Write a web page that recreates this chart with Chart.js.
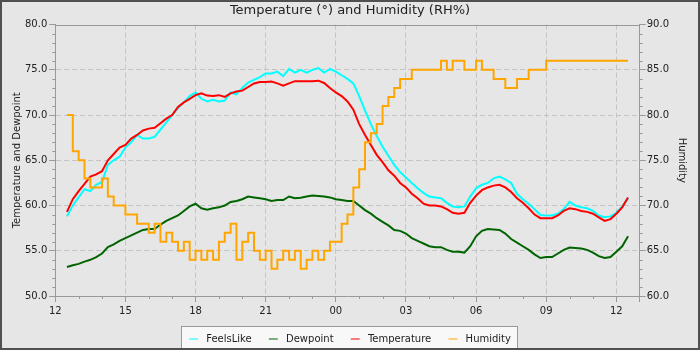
<!DOCTYPE html>
<html>
<head>
<meta charset="utf-8">
<title>Temperature and Humidity</title>
<script src="https://cdn.jsdelivr.net/npm/chart.js@4.4.0/dist/chart.umd.min.js"></script>
<style>
  html, body { margin: 0; padding: 0; background: #e6e6e6; }
</style>
</head>
<body>
<canvas id="chart" width="700" height="350"></canvas>
<script>
// readings every 15 minutes, 12:30 -> 12:30 next day
const times = [
  '12:30','12:45','13:00','13:15','13:30','13:45','14:00','14:15','14:30','14:45',
  '15:00','15:15','15:30','15:45','16:00','16:15','16:30','16:45','17:00','17:15',
  '17:30','17:45','18:00','18:15','18:30','18:45','19:00','19:15','19:30','19:45',
  '20:00','20:15','20:30','20:45','21:00','21:15','21:30','21:45','22:00','22:15',
  '22:30','22:45','23:00','23:15','23:30','23:45','00:00','00:15','00:30','00:45',
  '01:00','01:15','01:30','01:45','02:00','02:15','02:30','02:45','03:00','03:15',
  '03:30','03:45','04:00','04:15','04:30','04:45','05:00','05:15','05:30','05:45',
  '06:00','06:15','06:30','06:45','07:00','07:15','07:30','07:45','08:00','08:15',
  '08:30','08:45','09:00','09:15','09:30','09:45','10:00','10:15','10:30','10:45',
  '11:00','11:15','11:30','11:45','12:00','12:15','12:30'
];

const feelsLike = [
  58.8, 60.0, 60.9, 61.8, 61.6, 62.3, 62.6, 64.5, 65.0, 65.4,
  66.4, 67.0, 67.8, 67.4, 67.4, 67.6, 68.4, 69.2, 70.0, 70.8,
  71.4, 72.1, 72.5, 71.8, 71.5, 71.7, 71.5, 71.6, 72.5, 72.3,
  73.0, 73.6, 73.9, 74.2, 74.6, 74.6, 74.8, 74.3, 75.1, 74.7,
  75.0, 74.7, 75.0, 75.2, 74.7, 75.1, 74.8, 74.4, 74.0, 73.5,
  72.1, 70.5, 69.0, 67.7, 66.5, 65.5, 64.5, 63.7, 63.1, 62.5,
  61.9, 61.4, 61.0, 60.9, 60.8, 60.3, 59.9, 59.8, 59.9, 61.0,
  61.9, 62.3, 62.5, 63.0, 63.2, 62.9, 62.5, 61.3, 60.7, 60.2,
  59.6, 58.95, 58.9, 58.9, 59.1, 59.6, 60.4, 60.0, 59.8, 59.7,
  59.4, 58.9, 58.7, 58.8, 59.2, 59.9, 60.8
];

const dewpoint = [
  53.2, 53.4, 53.55, 53.8, 54.0, 54.3, 54.7, 55.4, 55.7, 56.1,
  56.4, 56.7, 57.0, 57.3, 57.4, 57.4, 57.9, 58.3, 58.6, 58.9,
  59.4, 59.9, 60.2, 59.7, 59.55, 59.7, 59.8, 60.0, 60.4, 60.5,
  60.7, 61.0, 60.9, 60.8, 60.7, 60.5, 60.6, 60.6, 61.0, 60.8,
  60.85, 61.0, 61.1, 61.05, 61.0, 60.9, 60.7, 60.6, 60.5, 60.5,
  60.0, 59.5, 59.1, 58.6, 58.2, 57.8, 57.3, 57.2, 56.9, 56.4,
  56.1, 55.8, 55.5, 55.4, 55.4, 55.1, 54.9, 54.9, 54.8, 55.5,
  56.6, 57.2, 57.4, 57.35, 57.3, 56.9, 56.3, 55.9, 55.5, 55.1,
  54.6, 54.2, 54.3, 54.3, 54.7, 55.1, 55.35, 55.3, 55.25, 55.1,
  54.8, 54.4, 54.2, 54.3, 54.9, 55.5, 56.6
];

const temperature = [
  59.3, 60.7, 61.6, 62.4, 63.2, 63.45, 63.8, 65.0, 65.7, 66.4,
  66.7, 67.4, 67.8, 68.3, 68.5, 68.6, 69.1, 69.6, 70.0, 70.9,
  71.4, 71.8, 72.2, 72.4, 72.15, 72.1, 72.2, 72.0, 72.4, 72.6,
  72.7, 73.1, 73.5, 73.65, 73.65, 73.7, 73.5, 73.25, 73.5, 73.75,
  73.75, 73.75, 73.75, 73.8, 73.55, 73.0, 72.5, 72.1, 71.5, 70.6,
  69.0, 67.8, 66.7, 65.6, 64.8, 63.9, 63.3, 62.5, 62.0, 61.3,
  60.8, 60.2, 60.0, 60.0, 59.9, 59.6, 59.2, 59.1, 59.2, 60.3,
  61.1, 61.7, 62.0, 62.2, 62.3, 62.0, 61.5, 60.8, 60.3, 59.7,
  59.0, 58.6, 58.6, 58.6, 58.9, 59.4, 59.7, 59.6, 59.4, 59.3,
  59.1, 58.7, 58.3, 58.5, 59.1, 59.8, 60.9
];

const humidity = [
  80, 76, 75, 73, 72, 72, 73, 71, 70, 70,
  69, 69, 68, 68, 67, 68, 66, 67, 66, 65,
  66, 64, 65, 64, 65, 64, 66, 67, 68, 64,
  66, 67, 65, 64, 65, 63, 64, 65, 64, 65,
  63, 64, 65, 64, 65, 66, 66, 68, 69, 72,
  74, 77, 78, 79, 81, 82, 83, 84, 84, 85,
  85, 85, 85, 85, 86, 85, 86, 86, 85, 85,
  86, 85, 85, 84, 84, 83, 83, 84, 84, 85,
  85, 85, 86, 86, 86, 86, 86, 86, 86, 86,
  86, 86, 86, 86, 86, 86, 86
];

const xTickLabels = ['12', '15', '18', '21', '00', '03', '06', '09', '12'];

// hours since 12:00 on the first day
const hours = [];
let dayOffset = 0;
let prevRaw = -1;
for (let i = 0; i < times.length; i++) {
  const [hh, mm] = times[i].split(':').map(Number);
  const raw = hh + mm / 60;
  if (raw < prevRaw) dayOffset += 24;
  prevRaw = raw;
  hours.push(raw + dayOffset - 12);
}

function toPoints(values) {
  return values.map((v, i) => ({ x: hours[i], y: v }));
}

Chart.defaults.font.family = "'DejaVu Sans', sans-serif";
Chart.defaults.font.size = 10;
Chart.defaults.color = '#222';

const frame = {
  id: 'frame',
  beforeDraw(chart) {
    const ctx = chart.ctx;
    ctx.save();
    ctx.fillStyle = '#e6e6e6';
    ctx.fillRect(0, 0, chart.width, chart.height);
    const boxes = chart.legend.legendHitBoxes;
    if (boxes && boxes.length) {
      const first = boxes[0];
      const last = boxes[boxes.length - 1];
      const left = Math.round(first.left) - 8;
      const right = Math.round(last.left + last.width) + 6;
      const top = Math.round(first.top + first.height / 2) - 13;
      ctx.fillStyle = '#f8f8f8';
      ctx.fillRect(left, top, right - left, 40);
      ctx.strokeStyle = '#999';
      ctx.lineWidth = 1;
      ctx.strokeRect(left + 0.5, top + 0.5, right - left, 40);
    }
    ctx.restore();
  },
  afterDraw(chart) {
    const ctx = chart.ctx;
    const a = chart.chartArea;
    const x = chart.scales.x;
    const y = chart.scales.y;
    const y1 = chart.scales.y1;
    ctx.save();
    ctx.strokeStyle = '#999';
    ctx.lineWidth = 1;
    ctx.beginPath();
    // top edge of the plot
    ctx.moveTo(a.left, Math.round(a.top) + 0.5);
    ctx.lineTo(a.right, Math.round(a.top) + 0.5);
    // minor ticks
    for (let h = 1; h < x.max; h++) {
      if (h % 3 === 0) continue;
      const px = Math.round(x.getPixelForValue(h)) + 0.5;
      ctx.moveTo(px, a.bottom);
      ctx.lineTo(px, a.bottom + 3);
    }
    for (let v = y.min + 1; v < y.max; v++) {
      if (v % 5 === 0) continue;
      const py = Math.round(y.getPixelForValue(v)) + 0.5;
      ctx.moveTo(a.left - 3, py);
      ctx.lineTo(a.left, py);
    }
    for (let v = y1.min + 1; v < y1.max; v++) {
      if (v % 5 === 0) continue;
      const py = Math.round(y1.getPixelForValue(v)) + 0.5;
      ctx.moveTo(a.right, py);
      ctx.lineTo(a.right + 3, py);
    }
    ctx.stroke();
    // outer frame
    ctx.strokeStyle = '#505050';
    ctx.lineWidth = 2;
    ctx.strokeRect(1, 1, chart.width - 2, chart.height - 2);
    ctx.restore();
  }
};

const gridColor = '#c4c4c4';

new Chart(document.getElementById('chart'), {
  type: 'line',
  data: {
    datasets: [
      {
        label: 'FeelsLike',
        data: toPoints(feelsLike),
        borderColor: '#00ffff',
        backgroundColor: '#00ffff',
        yAxisID: 'y',
        order: 4
      },
      {
        label: 'Dewpoint',
        data: toPoints(dewpoint),
        borderColor: '#006400',
        backgroundColor: '#006400',
        yAxisID: 'y',
        order: 3
      },
      {
        label: 'Temperature',
        data: toPoints(temperature),
        borderColor: '#ff0000',
        backgroundColor: '#ff0000',
        yAxisID: 'y',
        order: 2
      },
      {
        label: 'Humidity',
        data: toPoints(humidity),
        borderColor: '#ffa500',
        backgroundColor: '#ffa500',
        yAxisID: 'y1',
        stepped: true,
        order: 1
      }
    ]
  },
  options: {
    responsive: false,
    animation: false,
    layout: { padding: { left: 2, right: 2, top: 0, bottom: -4 } },
    elements: {
      point: { radius: 0 },
      line: { borderWidth: 2, tension: 0 }
    },
    plugins: {
      title: {
        display: true,
        text: 'Temperature (°) and Humidity (RH%)',
        font: { size: 13, weight: 'normal' },
        color: '#222',
        padding: { top: 3, bottom: 6 }
      },
      legend: {
        position: 'bottom',
        reverse: true,
        labels: {
          usePointStyle: true,
          pointStyle: 'line',
          pointStyleWidth: 9,
          padding: 14,
          color: '#222',
          generateLabels(chart) {
            const items = Chart.defaults.plugins.legend.labels.generateLabels(chart);
            // a bit more room around the text; item 0 is shown last (reverse)
            items.forEach((it, i) => {
              it.text = ' ' + it.text + (i === 0 ? '' : ' ');
            });
            return items;
          }
        }
      },
      tooltip: { enabled: false }
    },
    scales: {
      x: {
        type: 'linear',
        min: 0,
        max: 25,
        border: { color: '#999', dash: [5, 3] },
        grid: {
          color: (c) => (c.tick && c.tick.value > 0 && c.tick.value < 25) ? gridColor : 'rgba(0,0,0,0)',
          tickColor: '#999',
          tickLength: 6,
          tickBorderDash: []
        },
        ticks: {
          stepSize: 3,
          autoSkip: false,
          maxRotation: 0,
          padding: 3,
          callback: (v) => xTickLabels[v / 3] !== undefined ? xTickLabels[v / 3] : ''
        }
      },
      y: {
        position: 'left',
        min: 50,
        max: 80,
        border: { color: '#999', dash: [5, 3] },
        grid: {
          color: (c) => (c.tick && c.tick.value > 50 && c.tick.value < 80) ? gridColor : 'rgba(0,0,0,0)',
          tickColor: '#999',
          tickLength: 6,
          tickBorderDash: []
        },
        ticks: {
          stepSize: 5,
          padding: 2,
          callback: (v) => v.toFixed(1)
        },
        title: {
          display: true,
          text: 'Temperature and Dewpoint',
          padding: { top: 9, bottom: 0 }
        }
      },
      y1: {
        position: 'right',
        min: 60,
        max: 90,
        border: { color: '#999' },
        grid: {
          drawOnChartArea: false,
          tickColor: '#999',
          tickLength: 6
        },
        ticks: {
          stepSize: 5,
          padding: 1,
          callback: (v) => v.toFixed(1)
        },
        title: {
          display: true,
          text: 'Humidity',
          padding: { top: 10, bottom: 6 }
        }
      }
    }
  },
  plugins: [frame]
});
</script>
</body>
</html>
